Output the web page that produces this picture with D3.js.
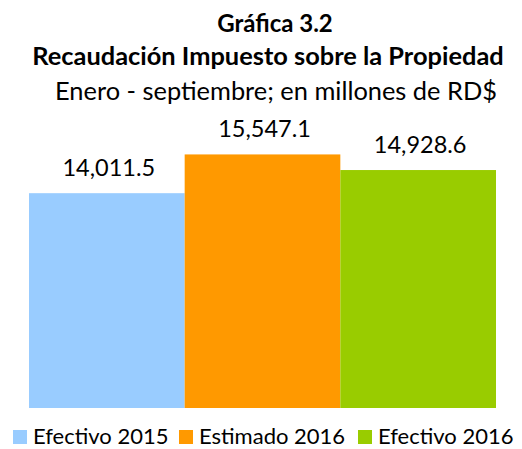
<!DOCTYPE html>
<html>
<head>
<meta charset="utf-8">
<script src="https://cdn.jsdelivr.net/npm/d3@7"></script>
<style>
  body { margin: 0; background: #fff; }
  svg text { font-family: Lato, "Open Sans", sans-serif; fill: #000; }
</style>
</head>
<body>
<div id="chart"></div>
<script>
// datos de la grafica
var series = ["Efectivo 2015", "Estimado 2016", "Efectivo 2016"];
var valores = [14011.5, 15547.1, 14928.6];
var colores = ["#99ccff", "#ff9900", "#99cc00"];
var titulos = ["Gráfica 3.2", "Recaudación Impuesto sobre la Propiedad", "Enero - septiembre; en millones de RD$"];

var width = 522, height = 449;

var svg = d3.select("#chart").append("svg")
    .attr("width", width)
    .attr("height", height);

// titulo
svg.append("text").attr("x", 275).attr("y", 32)
    .attr("text-anchor", "middle").style("font-weight", "bold").style("font-size", "24px")
    .text(titulos[0]);
svg.append("text").attr("x", 268).attr("y", 65)
    .attr("text-anchor", "middle").style("font-weight", "bold").style("font-size", "25.4px")
    .text(titulos[1]);
svg.append("text").attr("x", 276).attr("y", 100)
    .attr("text-anchor", "middle").style("font-size", "25.4px")
    .text(titulos[2]);

var x = d3.scaleBand()
    .domain(series)
    .range([29, 496])
    .padding(0);

var y = d3.scaleLinear()
    .domain([5500, 16000])
    .range([408, 143]);

var fmt = d3.format(",.1f");

svg.selectAll("rect.bar")
    .data(valores)
    .enter()
    .append("rect")
    .attr("class", "bar")
    .attr("x", function (d, i) { return x(series[i]); })
    .attr("y", function (d) { return y(d); })
    .attr("width", x.bandwidth())
    .attr("height", function (d) { return y.range()[0] - y(d); })
    .style("fill", function (d, i) { return colores[i]; });

svg.selectAll("text.etiqueta")
    .data(valores)
    .enter()
    .append("text")
    .attr("class", "etiqueta")
    .attr("x", function (d, i) { return x(series[i]) + x.bandwidth() / 2 + 2; })
    .attr("y", function (d) { return y(d) - 17; })
    .attr("text-anchor", "middle")
    .style("font-size", "23.5px")
    .text(function (d) { return fmt(d); });

// leyenda
var legX = [13, 179, 358];
var leg = svg.selectAll("g.leyenda")
    .data(series)
    .enter()
    .append("g")
    .attr("class", "leyenda")
    .attr("transform", function (d, i) { return "translate(" + legX[i] + ",430)"; });

leg.append("rect")
    .attr("width", 14)
    .attr("height", 14)
    .style("fill", function (d, i) { return colores[i]; });

leg.append("text")
    .attr("x", 20)
    .attr("y", 14)
    .style("font-size", "22px")
    .text(function (d) { return d; });
</script>
</body>
</html>
